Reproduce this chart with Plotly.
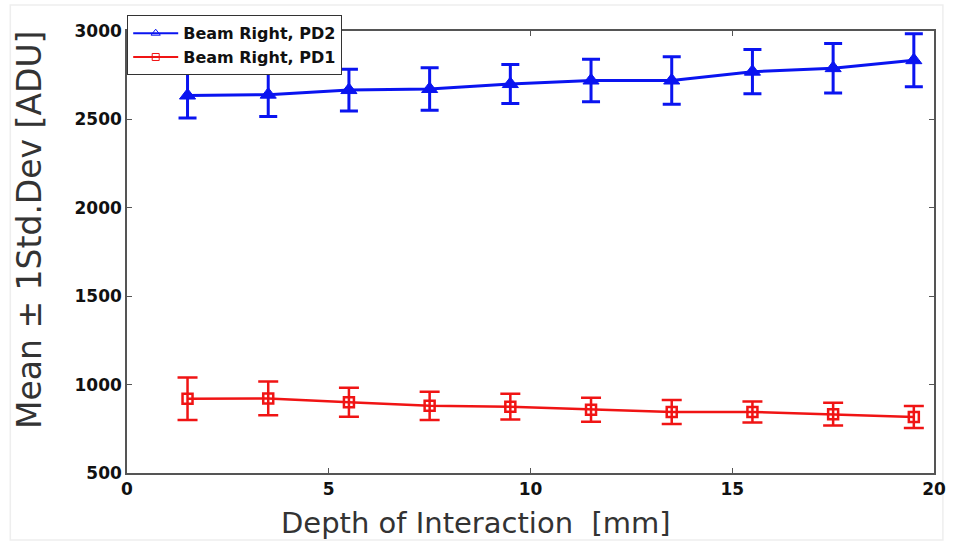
import plotly.graph_objects as go

depth = [1.5, 3.5, 5.5, 7.5, 9.5, 11.5, 13.5, 15.5, 17.5, 19.5]

pd2_mean = [2635, 2640, 2666, 2672, 2700, 2720, 2720, 2770, 2790, 2835]
pd2_std = [127, 123, 118, 120, 110, 120, 135, 125, 140, 150]

pd1_mean = [920, 922, 900, 880, 875, 858, 845, 845, 833, 817]
pd1_std = [120, 95, 82, 80, 73, 68, 68, 60, 65, 62]

x_ticks = [0, 5, 10, 15, 20]
y_ticks = [500, 1000, 1500, 2000, 2500, 3000]

series_names = ["Beam Right, PD2", "Beam Right, PD1"]

BLUE = "#0a14f0"
RED = "#f01414"
FONT = "DejaVu Sans, Verdana, sans-serif"

fig = go.Figure()

# measured series with ±1 std-dev error bars
fig.add_trace(go.Scatter(
    x=depth, y=pd2_mean, name=series_names[0], showlegend=False,
    mode="lines+markers",
    line=dict(color=BLUE, width=3),
    marker=dict(symbol="triangle-up", size=14, color=BLUE,
                line=dict(color=BLUE, width=1)),
    error_y=dict(type="data", array=pd2_std, visible=True,
                 color=BLUE, thickness=3, width=9),
))

fig.add_trace(go.Scatter(
    x=depth, y=pd1_mean, name=series_names[1], showlegend=False,
    mode="lines+markers",
    line=dict(color=RED, width=2.5),
    marker=dict(symbol="square-open", size=10, color=RED,
                line=dict(color=RED, width=2.5)),
    error_y=dict(type="data", array=pd1_std, visible=True,
                 color=RED, thickness=2.5, width=10),
))

# legend entries (thin line with small open marker)
fig.add_trace(go.Scatter(
    x=[None], y=[None], name=series_names[0], mode="lines+markers",
    line=dict(color=BLUE, width=2),
    marker=dict(symbol="triangle-up-open", size=8, color=BLUE,
                line=dict(color=BLUE, width=1)),
))
fig.add_trace(go.Scatter(
    x=[None], y=[None], name=series_names[1], mode="lines+markers",
    line=dict(color=RED, width=2),
    marker=dict(symbol="square-open", size=7, color=RED,
                line=dict(color=RED, width=1)),
))

axis_common = dict(
    showgrid=False, zeroline=False,
    showline=True, linecolor="#555555", linewidth=1.5, mirror="ticks",
    ticks="inside", ticklen=5, tickcolor="#555555",
    tickfont=dict(family=FONT, size=17, color="#111111", weight="bold"),
)

fig.update_layout(
    width=958, height=547,
    margin=dict(l=127, r=15, t=31, b=74),
    paper_bgcolor="white", plot_bgcolor="white",
    showlegend=True,
    legend=dict(
        x=0.0, y=1.036, xanchor="left", yanchor="top",
        bgcolor="white", bordercolor="#333333", borderwidth=1.2,
        font=dict(family=FONT, size=16, color="#111111", weight="bold"),
        tracegroupgap=0, itemwidth=45,
    ),
    xaxis=dict(range=[0, 20], tickvals=x_ticks, **axis_common),
    yaxis=dict(range=[500, 3000], tickvals=y_ticks, **axis_common),
    annotations=[
        dict(text="Depth of Interaction  [mm]", xref="paper", yref="paper",
             x=0.4326, y=0, xanchor="center", yanchor="middle", yshift=-50,
             showarrow=False,
             font=dict(family=FONT, size=29, color="#333333")),
        dict(text="Mean ± 1Std.Dev [ADU]", xref="paper", yref="paper",
             x=0, y=0.5498, xanchor="center", yanchor="middle", xshift=-97,
             textangle=-90, showarrow=False,
             font=dict(family=FONT, size=33, color="#333333")),
    ],
    shapes=[
        dict(type="rect", xref="paper", yref="paper",
             x0=-0.1446, x1=1.0110, y0=-0.1516, y1=1.0588,
             line=dict(color="#eeeeee", width=1.5), layer="below"),
    ],
)

fig.write_html("out.html")
